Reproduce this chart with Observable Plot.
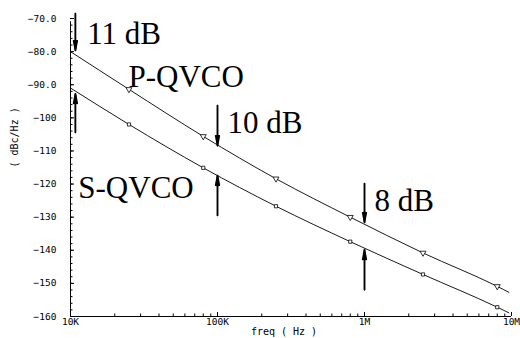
<!DOCTYPE html>
<html><head><meta charset="utf-8">
<script src="https://cdn.jsdelivr.net/npm/d3@7"></script>
<script src="https://cdn.jsdelivr.net/npm/@observablehq/plot@0.6"></script>
<style>body{margin:0;background:#fff} svg{display:block}</style>
</head><body><div id="chart"></div>
<script>
// Data
const freqs = [1e4, 2.5e4, 8e4, 2.5e5, 8e5, 2.5e6, 8e6, 9.6e6];
const pqvco = [-80.0, -91.4, -105.6, -118.4, -130.0, -140.8, -150.9, -152.7];
const sqvco = [-91.0, -102.0, -115.1, -126.7, -137.4, -147.3, -157.2, -158.9];
const markerIdx = [1, 2, 3, 4, 5, 6];

const yTicks = [-70, -80, -90, -100, -110, -120, -130, -140, -150, -160];
const yTickLabels = ["−70.0", "−80.0", "−90.0", "−100", "−110", "−120", "−130", "−140", "−150", "−160"];
const yMinorTicks = d3.range(-160, -69, 2);
const xTicks = [1e4, 1e5, 1e6, 1e7];
const xTickLabels = ["10K", "100K", "1M", "10M"];
const xMinorTicks = [1e4, 1e5, 1e6].flatMap(d => [2,3,4,5,6,7,8,9].map(k => k * d));

const annoText = ["11 dB", "P-QVCO", "10 dB", "S-QVCO", "8 dB"];
const annoF = [13.0e3, 24.8e3, 117e3, 11.3e3, 1.17e6];
const annoDb = [-77.6, -90.8, -104.7, -124.1, -128.0];

const arrowF = [10.8e3, 10.8e3, 100e3, 100e3, 1e6, 1e6];
const arrowFrom = [-68.5, -104.4, -96.3, -129.5, -119.8, -151.9];
const arrowTo = [-79.7, -92.7, -108.4, -117.4, -131.6, -139.8];

const rowsP = freqs.map((f, i) => ({f, v: pqvco[i]}));
const rowsS = freqs.map((f, i) => ({f, v: sqvco[i]}));
const annos = annoText.map((t, i) => ({t, f: annoF[i], v: annoDb[i]}));
const arrows = arrowF.map((f, i) => ({f, y1: arrowFrom[i], y2: arrowTo[i]}));

const chart = Plot.plot({
  width: 520, height: 338,
  marginLeft: 70, marginRight: 9, marginTop: 18, marginBottom: 22,
  x: {type: "log", domain: [1e4, 1e7]},
  y: {domain: [-160, -70]},
  style: {fontFamily: "DejaVu Sans Mono", fontSize: "9.5px", background: "white", color: "black"},
  marks: [
    Plot.axisY({ticks: yTicks, tickFormat: d => yTickLabels[yTicks.indexOf(d)], tickSize: 0, tickPadding: 14, label: null}),
    Plot.axisY({ticks: yMinorTicks, tickSize: -2.5, text: null, label: null}),
    Plot.axisY({ticks: yTicks, tickSize: -4, text: null, label: null}),
    Plot.axisX({ticks: xTicks, tickFormat: d => xTickLabels[xTicks.indexOf(d)], tickSize: 0, tickPadding: 2, label: null}),
    Plot.axisX({ticks: xMinorTicks, tickSize: -2.5, text: null, label: null}),
    Plot.axisX({ticks: xTicks, tickSize: -4, text: null, label: null}),
    Plot.ruleX([1e4], {y1: -160, y2: -71, stroke: "black", strokeWidth: 1}),
    Plot.ruleY([-160], {stroke: "black", strokeWidth: 1}),
    Plot.text(["( dBc/Hz )"], {frameAnchor: "left", text: d => d, rotate: -90, dx: -56, fontSize: 10}),
    Plot.text(["freq ( Hz )"], {frameAnchor: "bottom", text: d => d, dy: 18, dx: -7, fontSize: 10}),
    Plot.line(rowsP, {x: "f", y: "v", stroke: "black", strokeWidth: 0.9, curve: "monotone-x"}),
    Plot.line(rowsS, {x: "f", y: "v", stroke: "black", strokeWidth: 0.9, curve: "monotone-x"}),
    Plot.dot(markerIdx.map(i => rowsP[i]), {x: "f", y: "v", symbol: "triangle", rotate: 180, r: 2.2, stroke: "black", strokeWidth: 0.8, fill: "white"}),
    Plot.dot(markerIdx.map(i => rowsS[i]), {x: "f", y: "v", symbol: "square", r: 1.8, stroke: "black", strokeWidth: 0.8, fill: "white"}),
    Plot.arrow(arrows, {x1: "f", x2: "f", y1: "y1", y2: "y2", stroke: "black", strokeWidth: 1.5, headLength: 10, headAngle: 22}),
    Plot.arrow(arrows, {x1: "f", x2: "f", y1: "y1", y2: "y2", stroke: "black", strokeWidth: 1.5, headLength: 10, headAngle: 11}),
    Plot.text(annos, {x: "f", y: "v", text: "t", textAnchor: "start", lineAnchor: "bottom", fontFamily: "Liberation Serif", fontSize: 31, fill: "black"})
  ]
});
document.getElementById("chart").appendChild(chart);
</script>
</body></html>
